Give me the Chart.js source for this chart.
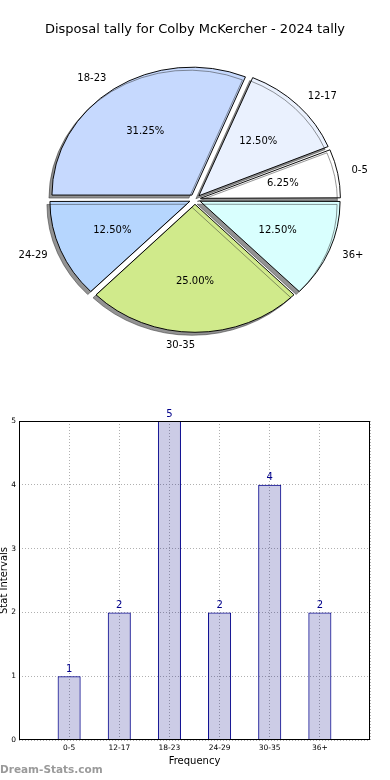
<!DOCTYPE html>
<html lang="en">
<head>
    <meta charset="UTF-8">
    <title>Disposal tally</title>
    <script src="https://cdn.jsdelivr.net/npm/chart.js"></script>
    <style>
        body { margin: 0; background: #fff; }
        .wrap { position: relative; width: 390px; height: 780px; overflow: hidden; }
        #pieChart { position: absolute; left: 0; top: 0; }
        #barChart { position: absolute; left: 0; top: 400px; }
        .mark {
            position: absolute; left: 0; top: 763px;
            font: bold 10.5px "DejaVu Sans", sans-serif; color: #9a9a9a;
        }
    </style>
</head>
<body>
<div class="wrap">
    <canvas id="pieChart" width="390" height="400"></canvas>
    <canvas id="barChart" width="390" height="380"></canvas>
    <div class="mark">Dream-Stats.com</div>
</div>

<script>
    const categories = ['0-5', '12-17', '18-23', '24-29', '30-35', '36+'];
    const counts = [1, 2, 5, 2, 4, 2];
    const sliceColors = ['#ffffff', '#eaf1fe', '#c6d9fe', '#b6d6fe', '#d0ea8b', '#d9fffe'];
    const yTicks = [0, 1, 2, 3, 4, 5];

    const FONT = '"DejaVu Sans", sans-serif';
    const PIE_R = 140;
    const SQUASH = 0.914;   // pie is drawn slightly flattened
    const EXPLODE = 22;     // chart.js arc offset (it moves offset/4 px)

    Chart.defaults.font.family = FONT;
    Chart.defaults.color = '#000';

    // pie goes counter-clockwise from 3 o'clock, chart.js goes clockwise -> reverse
    const pieLabels = categories.slice().reverse();
    const pieValues = counts.slice().reverse();
    const pieColors = sliceColors.slice().reverse();
    const total = counts.reduce((a, b) => a + b, 0);

    const squashPlugin = {
        id: 'squash',
        afterUpdate(chart) {
            // chart.js grows narrow exploded slices, keep them all the same radius
            chart.getDatasetMeta(0).data.forEach(el => {
                const fix = 1 - Math.sin(Math.min(Math.PI, el.circumference));
                el.outerRadius = PIE_R - fix * EXPLODE / 4;
            });
        },
        beforeDatasetsDraw(chart) {
            const ctx = chart.ctx;
            const a = chart.chartArea;
            const cx = (a.left + a.right) / 2, cy = (a.top + a.bottom) / 2;
            ctx.save();
            ctx.translate(cx, cy);
            ctx.scale(1, SQUASH);
            ctx.translate(-cx, -cy);
            ctx.shadowColor = 'rgba(40,40,40,0.5)';
            ctx.shadowOffsetX = -3;
            ctx.shadowOffsetY = 3;
            ctx.shadowBlur = 0;
        },
        afterDatasetsDraw(chart) {
            const ctx = chart.ctx;
            ctx.restore();
            const arcs = chart.getDatasetMeta(0).data;
            const shift = EXPLODE / 4;
            ctx.save();
            ctx.fillStyle = '#000';
            ctx.font = '10px ' + FONT;
            ctx.textBaseline = 'middle';
            arcs.forEach((el, i) => {
                const mid = (el.startAngle + el.endAngle) / 2;
                const c = Math.cos(mid), s = Math.sin(mid);
                // outer label
                let d = PIE_R * 1.1 + shift;
                ctx.textAlign = c > 1e-6 ? 'left' : 'right';
                ctx.fillText(pieLabels[i], el.x + c * d, el.y + s * d * SQUASH);
                // percentage
                d = PIE_R * 0.6 + shift;
                ctx.textAlign = 'center';
                const pct = (pieValues[i] / total * 100).toFixed(2) + '%';
                ctx.fillText(pct, el.x + c * d, el.y + s * d * SQUASH);
            });
            ctx.restore();
        }
    };

    new Chart(document.getElementById('pieChart'), {
        type: 'pie',
        data: {
            labels: pieLabels,
            datasets: [{
                data: pieValues,
                backgroundColor: pieColors,
                borderColor: '#000',
                borderWidth: 1,
                offset: EXPLODE,
                hoverOffset: 0,
                clip: false
            }]
        },
        options: {
            responsive: false,
            animation: false,
            events: [],
            rotation: 90,
            radius: PIE_R,
            layout: { padding: { top: 0, bottom: 39, left: 0, right: 0 } },
            plugins: {
                legend: { display: false },
                tooltip: { enabled: false },
                title: {
                    display: true,
                    text: 'Disposal tally for Colby McKercher - 2024 tally',
                    color: '#000',
                    font: { size: 13, weight: 'normal', family: FONT },
                    padding: { top: 22, bottom: 0 }
                }
            }
        },
        plugins: [squashPlugin]
    });

    const barExtras = {
        id: 'barExtras',
        afterDatasetsDraw(chart) {
            const ctx = chart.ctx;
            const bars = chart.getDatasetMeta(0).data;
            ctx.save();
            ctx.fillStyle = '#00008b';
            ctx.font = '10px ' + FONT;
            ctx.textAlign = 'center';
            ctx.textBaseline = 'bottom';
            bars.forEach((b, i) => ctx.fillText(String(counts[i]), b.x, b.y - 2));
            ctx.restore();
        },
        afterDraw(chart) {
            // full box round the plot, like the axes frame
            const a = chart.chartArea;
            const ctx = chart.ctx;
            ctx.save();
            ctx.strokeStyle = '#000';
            ctx.lineWidth = 1;
            const l = Math.round(a.left) + 0.5, t = Math.round(a.top) + 0.5;
            const r = Math.round(a.right) - 0.5, b = Math.round(a.bottom) - 0.5;
            ctx.strokeRect(l, t, r - l, b - t);
            ctx.restore();
        }
    };

    new Chart(document.getElementById('barChart'), {
        type: 'bar',
        data: {
            datasets: [{
                data: categories.map((c, i) => ({ x: i + 1, y: counts[i] })),
                backgroundColor: 'rgba(0,0,128,0.2)',
                borderColor: '#00008b',
                borderWidth: 1,
                barPercentage: 0.46,
                categoryPercentage: 1
            }]
        },
        options: {
            responsive: false,
            animation: false,
            events: [],
            layout: { padding: { top: 21, right: 20, left: 0, bottom: 0 } },
            plugins: { legend: { display: false }, tooltip: { enabled: false } },
            scales: {
                x: {
                    type: 'linear',
                    offset: false,
                    min: 0,
                    max: categories.length + 1,
                    afterFit: s => { s.height = 40; },
                    ticks: {
                        stepSize: 1,
                        autoSkip: false,
                        maxRotation: 0,
                        padding: 4,
                        font: { size: 7.5 },
                        callback: v => categories[v - 1] || ''
                    },
                    grid: { color: '#b0b0b0', drawTicks: false, offset: false },
                    border: { display: false, dash: [1, 2] },
                    title: {
                        display: true,
                        text: 'Frequency',
                        font: { size: 10 },
                        padding: { top: 0, bottom: 13 }
                    }
                },
                y: {
                    min: 0,
                    max: yTicks[yTicks.length - 1],
                    afterFit: s => { s.width = 19; },
                    afterBuildTicks: s => { s.ticks = yTicks.map(v => ({ value: v })); },
                    ticks: { padding: 3, font: { size: 7.5 } },
                    grid: { color: '#b0b0b0', drawTicks: false },
                    border: { display: false, dash: [1, 2] },
                    title: {
                        display: true,
                        text: 'Stat Intervals',
                        font: { size: 10, lineHeight: 1 },
                        padding: { top: -1, bottom: 0 }
                    }
                }
            }
        },
        plugins: [barExtras]
    });
</script>
</body>
</html>
